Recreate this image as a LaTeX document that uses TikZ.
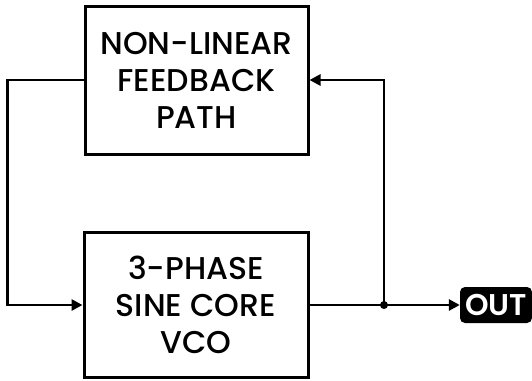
\documentclass[tikz,border=0pt]{standalone}
\usepackage{fontspec}
\setmainfont{Poppins}[UprightFont={* Medium},BoldFont={* SemiBold}]
\usetikzlibrary{arrows.meta}
\begin{document}
\begin{tikzpicture}[x=1pt,y=-1pt,
  blk/.style={draw=black,line width=3pt,fill=white,align=center,inner sep=0pt,
    font=\fontsize{31.5}{37}\selectfont},
  wire/.style={line width=2.8pt,line join=miter},
  arr/.style={wire,-{Triangle[length=11pt,width=11pt]}},
  outbox/.style={fill=black,text=white,rounded corners=5pt,inner sep=0pt,
    minimum width=72pt,minimum height=36pt,font=\fontsize{30}{30}\selectfont\bfseries}]
\useasboundingbox (0,0) rectangle (532,380);
\node[blk,minimum width=223pt,minimum height=148pt] (nlf) at (196.5,80) {NON-LINEAR\\FEEDBACK\\PATH};
\node[blk,minimum width=224pt,minimum height=145pt] (vco) at (196,305) {3-PHASE\\SINE CORE\\VCO};
\node[outbox] (out) at (496,305) {OUT};
\coordinate (j) at (384,305);
\coordinate (lc) at (7.5,80);
\draw[arr] (nlf.west) -- (lc) |- (vco.west);
\draw[wire] (vco.east) -- (j);
\draw[arr] (j) |- (nlf.east);
\draw[arr] (j) -- (out.west);
\fill (j) circle (4pt);
\end{tikzpicture}
\end{document}
